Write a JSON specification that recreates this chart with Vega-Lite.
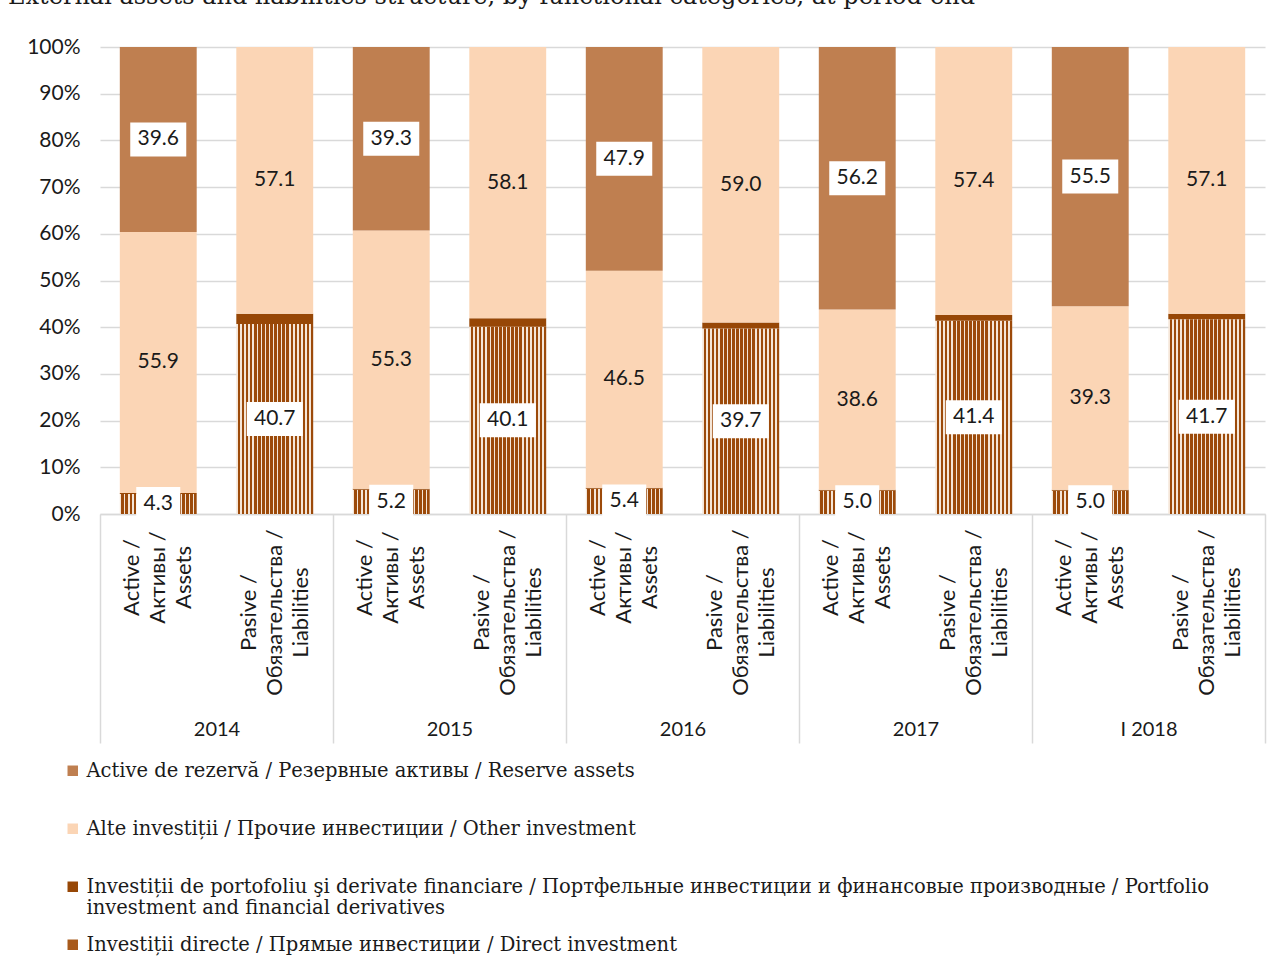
{
  "$schema": "https://vega.github.io/schema/vega-lite/v6.json",
  "autosize": {"type": "none"},
  "padding": {"left": 100, "top": 47, "right": 18, "bottom": 465},
  "width": 1165,
  "height": 467,
  "background": "white",
  "title": {
    "text": "External assets and liabilities structure, by functional categories, at period-end",
    "anchor": "start",
    "frame": "group",
    "dx": -92,
    "offset": 8,
    "baseline": "alphabetic",
    "font": "DejaVu Serif",
    "fontSize": 24,
    "fontWeight": "normal",
    "color": "#1a1a1a"
  },
  "config": {
    "font": "Lato",
    "view": {"stroke": null}
  },
  "datasets": {
    "names": [
      {"code": "R", "name": "Active de rezervă / Резервные активы / Reserve assets"},
      {"code": "O", "name": "Alte investiții / Прочие инвестиции / Other investment"},
      {"code": "P", "name": "Investiții de portofoliu şi derivate financiare / Портфельные инвестиции и финансовые производные / Portfolio investment and financial derivatives"},
      {"code": "D", "name": "Investiții directe / Прямые инвестиции / Direct investment"}
    ]
  },
  "data": {
    "values": [
      {"period": "2014", "bar": "2014 A", "code": "D", "value": 4.3},
      {"period": "2014", "bar": "2014 A", "code": "P", "value": 0.2},
      {"period": "2014", "bar": "2014 A", "code": "O", "value": 55.9},
      {"period": "2014", "bar": "2014 A", "code": "R", "value": 39.6},
      {"period": "2014", "bar": "2014 L", "code": "D", "value": 40.7},
      {"period": "2014", "bar": "2014 L", "code": "P", "value": 2.2},
      {"period": "2014", "bar": "2014 L", "code": "O", "value": 57.1},
      {"period": "2015", "bar": "2015 A", "code": "D", "value": 5.2},
      {"period": "2015", "bar": "2015 A", "code": "P", "value": 0.2},
      {"period": "2015", "bar": "2015 A", "code": "O", "value": 55.3},
      {"period": "2015", "bar": "2015 A", "code": "R", "value": 39.3},
      {"period": "2015", "bar": "2015 L", "code": "D", "value": 40.1},
      {"period": "2015", "bar": "2015 L", "code": "P", "value": 1.8},
      {"period": "2015", "bar": "2015 L", "code": "O", "value": 58.1},
      {"period": "2016", "bar": "2016 A", "code": "D", "value": 5.4},
      {"period": "2016", "bar": "2016 A", "code": "P", "value": 0.2},
      {"period": "2016", "bar": "2016 A", "code": "O", "value": 46.5},
      {"period": "2016", "bar": "2016 A", "code": "R", "value": 47.9},
      {"period": "2016", "bar": "2016 L", "code": "D", "value": 39.7},
      {"period": "2016", "bar": "2016 L", "code": "P", "value": 1.3},
      {"period": "2016", "bar": "2016 L", "code": "O", "value": 59.0},
      {"period": "2017", "bar": "2017 A", "code": "D", "value": 5.0},
      {"period": "2017", "bar": "2017 A", "code": "P", "value": 0.2},
      {"period": "2017", "bar": "2017 A", "code": "O", "value": 38.6},
      {"period": "2017", "bar": "2017 A", "code": "R", "value": 56.2},
      {"period": "2017", "bar": "2017 L", "code": "D", "value": 41.4},
      {"period": "2017", "bar": "2017 L", "code": "P", "value": 1.2},
      {"period": "2017", "bar": "2017 L", "code": "O", "value": 57.4},
      {"period": "I 2018", "bar": "I 2018 A", "code": "D", "value": 5.0},
      {"period": "I 2018", "bar": "I 2018 A", "code": "P", "value": 0.2},
      {"period": "I 2018", "bar": "I 2018 A", "code": "O", "value": 39.3},
      {"period": "I 2018", "bar": "I 2018 A", "code": "R", "value": 55.5},
      {"period": "I 2018", "bar": "I 2018 L", "code": "D", "value": 41.7},
      {"period": "I 2018", "bar": "I 2018 L", "code": "P", "value": 1.2},
      {"period": "I 2018", "bar": "I 2018 L", "code": "O", "value": 57.1}
    ]
  },
  "transform": [
    {"lookup": "code", "from": {"data": {"name": "names"}, "key": "code", "fields": ["name"]}},
    {"stack": "value", "groupby": ["bar"], "sort": [{"field": "name", "order": "descending"}], "offset": "normalize", "as": ["v0", "v1"]},
    {"calculate": "(datum.v0 + datum.v1) / 2", "as": "mid"}
  ],
  "resolve": {"scale": {"x": "independent"}},
  "layer": [
    {
      "encoding": {
        "x": {
          "field": "bar",
          "type": "nominal",
          "sort": null,
          "scale": {"type": "band", "paddingInner": 0.34, "paddingOuter": 0.17},
          "axis": {
            "orient": "bottom",
            "title": null,
            "domain": true,
            "domainColor": "#d9d9d9",
            "domainWidth": 1.5,
            "ticks": false,
            "labelAngle": 270,
            "labelAlign": "center",
            "labelBaseline": "middle",
            "labelFont": "Lato",
            "labelFontSize": 22,
            "labelColor": "#1a1a1a",
            "labelLineHeight": 26,
            "labelOffset": -26,
            "labelOverlap": false,
            "labelBound": false,
            "labelPadding": {"condition": {"test": "indexof(datum.value, 'A') >= 0", "value": 63}, "value": 98},
            "labelExpr": "indexof(datum.value, 'A') >= 0 ? ['Active /', 'Активы /', 'Assets'] : ['Pasive /', 'Обязательства /', 'Liabilities']"
          }
        }
      },
      "layer": [
        {
          "mark": {"type": "bar", "strokeWidth": 0},
          "encoding": {
            "y": {
              "field": "v0",
              "type": "quantitative",
              "scale": {"domain": [0, 1], "nice": false},
              "axis": {
                "title": null,
                "values": [0, 0.1, 0.2, 0.3, 0.4, 0.5, 0.6, 0.7, 0.8, 0.9, 1],
                "format": ".0%",
                "domain": false,
                "ticks": false,
                "grid": true,
                "gridColor": "#d9d9d9",
                "gridWidth": 1.5,
                "labelFont": "Lato",
                "labelFontSize": 21,
                "labelColor": "#1a1a1a",
                "labelPadding": 20
              }
            },
            "y2": {"field": "v1"},
            "fill": {
              "field": "name",
              "type": "nominal",
              "scale": {
                "domain": [
                  "Active de rezervă / Резервные активы / Reserve assets",
                  "Alte investiții / Прочие инвестиции / Other investment",
                  "Investiții de portofoliu şi derivate financiare / Портфельные инвестиции и финансовые производные / Portfolio investment and financial derivatives",
                  "Investiții directe / Прямые инвестиции / Direct investment"
                ],
                "range": ["#BF7F50", "#FBD5B5", "#974706", "#A85A1C"]
              },
              "condition": {
                "test": "datum.code === 'D'",
                "value": {
                  "gradient": "linear",
                  "x1": 0, "y1": 0, "x2": 1, "y2": 0,
                  "stops": [
                    {"offset": 0, "color": "#F5E6D8"}, {"offset": 0.021, "color": "#F5E6D8"}, {"offset": 0.021, "color": "#9C4A0A"}, {"offset": 0.0526, "color": "#9C4A0A"},
                    {"offset": 0.0526, "color": "#F5E6D8"}, {"offset": 0.0737, "color": "#F5E6D8"}, {"offset": 0.0737, "color": "#9C4A0A"}, {"offset": 0.1053, "color": "#9C4A0A"},
                    {"offset": 0.1053, "color": "#F5E6D8"}, {"offset": 0.1263, "color": "#F5E6D8"}, {"offset": 0.1263, "color": "#9C4A0A"}, {"offset": 0.1579, "color": "#9C4A0A"},
                    {"offset": 0.1579, "color": "#F5E6D8"}, {"offset": 0.1789, "color": "#F5E6D8"}, {"offset": 0.1789, "color": "#9C4A0A"}, {"offset": 0.2105, "color": "#9C4A0A"},
                    {"offset": 0.2105, "color": "#F5E6D8"}, {"offset": 0.2316, "color": "#F5E6D8"}, {"offset": 0.2316, "color": "#9C4A0A"}, {"offset": 0.2632, "color": "#9C4A0A"},
                    {"offset": 0.2632, "color": "#F5E6D8"}, {"offset": 0.2842, "color": "#F5E6D8"}, {"offset": 0.2842, "color": "#9C4A0A"}, {"offset": 0.3158, "color": "#9C4A0A"},
                    {"offset": 0.3158, "color": "#F5E6D8"}, {"offset": 0.3368, "color": "#F5E6D8"}, {"offset": 0.3368, "color": "#9C4A0A"}, {"offset": 0.3684, "color": "#9C4A0A"},
                    {"offset": 0.3684, "color": "#F5E6D8"}, {"offset": 0.3895, "color": "#F5E6D8"}, {"offset": 0.3895, "color": "#9C4A0A"}, {"offset": 0.4211, "color": "#9C4A0A"},
                    {"offset": 0.4211, "color": "#F5E6D8"}, {"offset": 0.4421, "color": "#F5E6D8"}, {"offset": 0.4421, "color": "#9C4A0A"}, {"offset": 0.4737, "color": "#9C4A0A"},
                    {"offset": 0.4737, "color": "#F5E6D8"}, {"offset": 0.4947, "color": "#F5E6D8"}, {"offset": 0.4947, "color": "#9C4A0A"}, {"offset": 0.5263, "color": "#9C4A0A"},
                    {"offset": 0.5263, "color": "#F5E6D8"}, {"offset": 0.5474, "color": "#F5E6D8"}, {"offset": 0.5474, "color": "#9C4A0A"}, {"offset": 0.5789, "color": "#9C4A0A"},
                    {"offset": 0.5789, "color": "#F5E6D8"}, {"offset": 0.6, "color": "#F5E6D8"}, {"offset": 0.6, "color": "#9C4A0A"}, {"offset": 0.6316, "color": "#9C4A0A"},
                    {"offset": 0.6316, "color": "#F5E6D8"}, {"offset": 0.6526, "color": "#F5E6D8"}, {"offset": 0.6526, "color": "#9C4A0A"}, {"offset": 0.6842, "color": "#9C4A0A"},
                    {"offset": 0.6842, "color": "#F5E6D8"}, {"offset": 0.7053, "color": "#F5E6D8"}, {"offset": 0.7053, "color": "#9C4A0A"}, {"offset": 0.7368, "color": "#9C4A0A"},
                    {"offset": 0.7368, "color": "#F5E6D8"}, {"offset": 0.7579, "color": "#F5E6D8"}, {"offset": 0.7579, "color": "#9C4A0A"}, {"offset": 0.7895, "color": "#9C4A0A"},
                    {"offset": 0.7895, "color": "#F5E6D8"}, {"offset": 0.8105, "color": "#F5E6D8"}, {"offset": 0.8105, "color": "#9C4A0A"}, {"offset": 0.8421, "color": "#9C4A0A"},
                    {"offset": 0.8421, "color": "#F5E6D8"}, {"offset": 0.8632, "color": "#F5E6D8"}, {"offset": 0.8632, "color": "#9C4A0A"}, {"offset": 0.8947, "color": "#9C4A0A"},
                    {"offset": 0.8947, "color": "#F5E6D8"}, {"offset": 0.9158, "color": "#F5E6D8"}, {"offset": 0.9158, "color": "#9C4A0A"}, {"offset": 0.9474, "color": "#9C4A0A"},
                    {"offset": 0.9474, "color": "#F5E6D8"}, {"offset": 0.9684, "color": "#F5E6D8"}, {"offset": 0.9684, "color": "#9C4A0A"}, {"offset": 1, "color": "#9C4A0A"}
                  ]
                }
              },
              "legend": {
                "orient": "none",
                "legendX": -37,
                "legendY": 714,
                "title": null,
                "direction": "vertical",
                "symbolType": "square",
                "symbolSize": 110,
                "symbolStrokeWidth": 0,
                "labelFont": "DejaVu Serif",
                "labelFontSize": 19.5,
                "labelColor": "#1a1a1a",
                "labelLimit": 0,
                "labelOffset": 4,
                "rowPadding": 16,
                "labelExpr": "indexof(datum.label, 'Portfolio') >= 0 ? ['Investiții de portofoliu şi derivate financiare / Портфельные инвестиции и финансовые производные / Portfolio', 'investment and financial derivatives'] : [datum.label, ' ']"
              }
            }
          }
        },
        {
          "transform": [{"filter": "datum.code === 'D' || datum.code === 'R'"}],
          "mark": {"type": "point", "filled": true, "fill": "white", "opacity": 1, "strokeWidth": 0, "size": 3136},
          "encoding": {
            "y": {"field": "mid", "type": "quantitative"},
            "shape": {
              "condition": {"test": "datum.value < 10", "value": "M-0.786,-0.607H0.786V0.607H-0.786Z"},
              "value": "M-1,-0.607H1V0.607H-1Z"
            }
          }
        },
        {
          "transform": [{"filter": "datum.code !== 'P'"}],
          "mark": {"type": "text", "font": "Lato", "fontSize": 21, "color": "#1a1a1a", "baseline": "middle", "align": "center"},
          "encoding": {
            "y": {"field": "mid", "type": "quantitative"},
            "text": {"field": "value", "type": "quantitative", "format": ".1f"}
          }
        }
      ]
    },
    {
      "mark": {"type": "point", "opacity": 0},
      "encoding": {
        "x": {
          "field": "period",
          "type": "nominal",
          "sort": null,
          "scale": {"type": "band", "paddingInner": 0, "paddingOuter": 0},
          "axis": {
            "orient": "bottom",
            "title": null,
            "domain": false,
            "ticks": true,
            "tickBand": "extent",
            "tickSize": 229,
            "tickColor": "#d9d9d9",
            "tickWidth": 1.5,
            "labelAngle": 0,
            "labelFont": "Lato",
            "labelFontSize": 20,
            "labelColor": "#1a1a1a",
            "labelPadding": -24,
            "labelBaseline": "top",
            "labelOverlap": false
          }
        }
      }
    }
  ]
}
